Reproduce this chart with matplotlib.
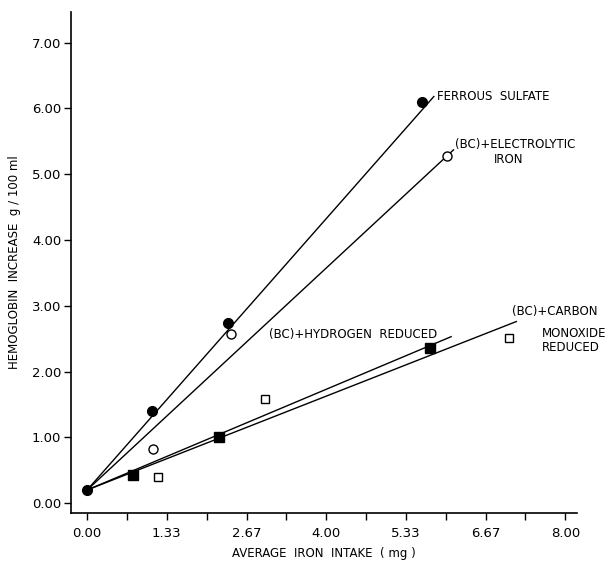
import matplotlib
matplotlib.use("Agg")
import matplotlib.pyplot as plt
import numpy as np

# Data
fs_x = [0.0, 1.09, 2.36, 5.60]
fs_y = [0.20, 1.40, 2.74, 6.10]
el_x = [1.10, 2.40, 6.02]
el_y = [0.82, 2.57, 5.27]
hy_x = [0.77, 2.21, 5.74]
hy_y = [0.43, 1.00, 2.36]
co_x = [1.19, 2.97, 7.05]
co_y = [0.40, 1.58, 2.51]

# Fitted lines (start, end)
fs_line_x = [0.0, 5.80]
fs_line_y = [0.20, 6.18]
el_line_x = [0.0, 6.13]
el_line_y = [0.20, 5.37]
hy_line_x = [0.0, 6.09]
hy_line_y = [0.20, 2.53]
co_line_x = [0.0, 7.18]
co_line_y = [0.20, 2.76]

xtick_vals = [0.0, 1.333, 2.667, 4.0, 5.333, 6.667, 8.0]
xtick_labels = ["0.00", "1.33", "2.67", "4.00", "5.33", "6.67", "8.00"]
ytick_vals = [0, 1, 2, 3, 4, 5, 6, 7]
ytick_labels = ["0.00", "1.00", "2.00", "3.00", "4.00", "5.00", "6.00", "7.00"]

plt.rcParams['font.family'] = ['DejaVu Sans']
fig = plt.figure(figsize=(6.07, 5.62), dpi=100)
ax = fig.add_axes([0.117, 0.0872, 0.834, 0.892])

lw = 1.0
ax.plot(fs_line_x, fs_line_y, color='black', lw=lw)
ax.plot(el_line_x, el_line_y, color='black', lw=lw)
ax.plot(hy_line_x, hy_line_y, color='black', lw=lw)
ax.plot(co_line_x, co_line_y, color='black', lw=lw)

ax.plot(fs_x, fs_y, 'o', color='black', ms=7, ls='none')
ax.plot(el_x, el_y, 'o', mfc='white', mec='black', mew=1.0, ms=6.5, ls='none')
ax.plot(hy_x, hy_y, 's', color='black', ms=6.5, ls='none')
ax.plot(co_x, co_y, 's', mfc='white', mec='black', mew=1.0, ms=6, ls='none')

ax.set_xlim(-0.27, 8.2)
ax.set_ylim(-0.15, 7.47)

ax.spines['top'].set_visible(False)
ax.spines['right'].set_visible(False)
ax.spines['left'].set_linewidth(1.2)
ax.spines['bottom'].set_linewidth(1.2)

ax.set_xticks(xtick_vals)
ax.set_xticklabels(xtick_labels, fontsize=9.5)
ax.set_xticks([0.667, 2.0, 3.333, 4.667, 6.0, 7.333], minor=True)
ax.set_yticks(ytick_vals)
ax.set_yticklabels(ytick_labels, fontsize=9.5)
ax.tick_params(axis='both', direction='out', length=5, width=1.0)
ax.tick_params(axis='x', which='minor', direction='out', length=5, width=1.0)
ax.tick_params(axis='x', pad=5)
ax.tick_params(axis='y', pad=2)

ax.set_xlabel("AVERAGE  IRON  INTAKE  ( mg )", fontsize=8.5, labelpad=5)
ax.set_ylabel("HEMOGLOBIN  INCREASE  g / 100 ml", fontsize=8.5, labelpad=8)

fs = 8.5
ax.text(5.86, 6.18, "FERROUS  SULFATE", fontsize=fs, va='center', ha='left')
ax.text(6.15, 5.45, "(BC)+ELECTROLYTIC", fontsize=fs, va='center', ha='left')
ax.text(6.8, 5.22, "IRON", fontsize=fs, va='center', ha='left')
ax.text(3.05, 2.57, "(BC)+HYDROGEN  REDUCED", fontsize=fs, va='center', ha='left')
ax.text(7.10, 2.91, "(BC)+CARBON", fontsize=fs, va='center', ha='left')
ax.text(7.60, 2.58, "MONOXIDE", fontsize=fs, va='center', ha='left')
ax.text(7.60, 2.36, "REDUCED", fontsize=fs, va='center', ha='left')

fig.savefig("out.png", dpi=100)
